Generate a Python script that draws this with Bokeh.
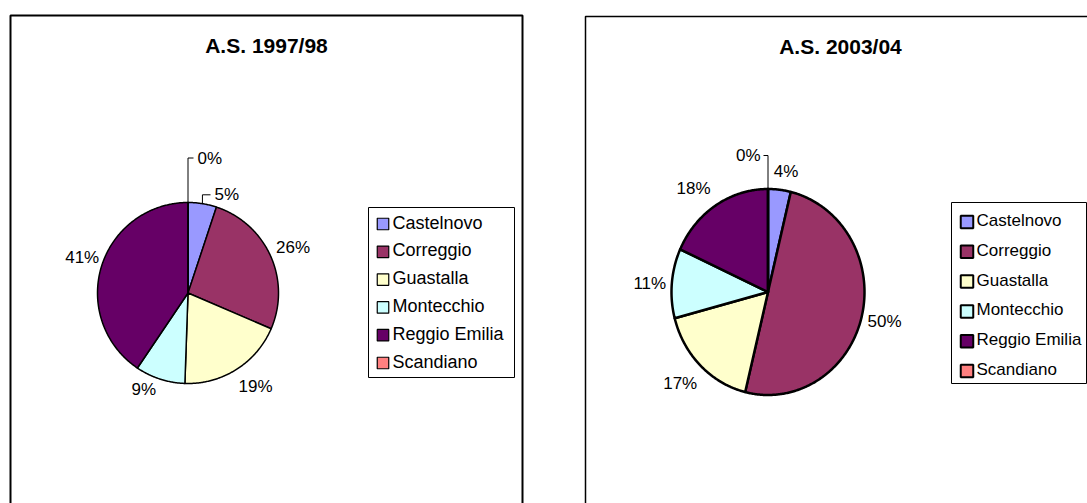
import math
from bokeh.plotting import figure
from bokeh.models import Range1d, ColumnDataSource
from bokeh.embed import file_html
from bokeh.resources import INLINE
from bokeh.core.properties import value

# ---------------- data ----------------
categories = ["Castelnovo", "Correggio", "Guastalla", "Montecchio", "Reggio Emilia", "Scandiano"]
colors = ["#9999FF", "#993366", "#FFFFCC", "#CCFFFF", "#660066", "#FF8080"]
title_1997 = "A.S. 1997/98"
title_2003 = "A.S. 2003/04"
values_1997 = [5.1, 26.4, 19.1, 8.9, 40.6, 0.0]
values_2003 = [3.8, 50.0, 17.1, 10.9, 18.2, 0.0]

FONT = value("Liberation Sans")
W, H = 1087, 503


def Y(sy):
    # picture y -> data y
    return H - sy


p = figure(width=W, height=H, x_range=Range1d(0, W), y_range=Range1d(0, H),
           output_backend="svg", toolbar_location=None, min_border=0,
           x_axis_type=None, y_axis_type=None, outline_line_color=None,
           background_fill_color="white", border_fill_color="white")


def draw_chart(frame, frame_lw, title, title_pos, vals, pie, lw, label_layout,
               legend_box, legend_font, swatch, rows):
    # frame
    fl, fr, ft = frame
    p.quad(left=[fl], right=[fr], top=[Y(ft)], bottom=[Y(540)], fill_color=None,
           line_color="black", line_width=frame_lw)
    # title
    p.text(x=[title_pos[0]], y=[Y(title_pos[1])], text=[title], text_font=FONT,
           text_font_size="21px", text_font_style="bold", text_align="center",
           text_baseline="middle", text_color="black")
    # pie slices
    cx, cys, rx, ry = pie
    cy = Y(cys)
    total = sum(vals)
    xs, ys, mids = [], [], []
    cum = 0.0
    for v in vals:
        t0 = 2 * math.pi * cum / total
        t1 = 2 * math.pi * (cum + v) / total
        n = max(2, int(abs(t1 - t0) / 0.01))
        px, py = [cx], [cy]
        for k in range(n + 1):
            t = t0 + (t1 - t0) * k / n
            px.append(cx + rx * math.sin(t))
            py.append(cy + ry * math.cos(t))
        xs.append(px)
        ys.append(py)
        mids.append((t0 + t1) / 2)
        cum += v
    src = ColumnDataSource(dict(xs=xs, ys=ys, color=colors, name=categories))
    p.patches("xs", "ys", fill_color="color", line_color="black", line_width=lw,
              line_join="round", source=src)
    # data labels
    for v, mid, lay in zip(vals, mids, label_layout):
        dx, dy, align, leader = lay
        lx, ly = cx + dx, cy + dy
        txt = "%d%%" % round(100 * v / total)
        p.text(x=[lx], y=[ly], text=[txt], text_font=FONT, text_font_size="17px",
               text_align=align, text_baseline="middle", text_color="black")
        if leader:
            ex = cx + rx * math.sin(mid)
            ey = cy + ry * math.cos(mid)
            endx = lx - 4 if align == "left" else lx + 3
            p.line(x=[ex, ex, endx], y=[ey, ly, ly], line_color="black", line_width=1)
    # legend
    ll, lr, lt, lb = legend_box
    p.quad(left=[ll], right=[lr], top=[Y(lt)], bottom=[Y(lb)], fill_color="white",
           line_color="black", line_width=1)
    sx, ssize, sw_lw, tx = swatch
    r0, step = rows
    for i, (name, col) in enumerate(zip(categories, colors)):
        ry_ = Y(r0 + i * step)
        p.rect(x=[sx], y=[ry_ - 1.5], width=ssize, height=ssize, fill_color=col,
               line_color="black", line_width=sw_lw)
        p.text(x=[tx], y=[ry_], text=[name], text_font=FONT, text_font_size=legend_font,
               text_align="left", text_baseline="middle", text_color="black")


# layout for labels: (dx, dy_up, align, leader)
layout_1997 = [
    (26.5, 98.2, "left", True),
    (105.0, 45.2, "center", False),
    (67.5, -93.5, "center", False),
    (-44.2, -96.8, "center", False),
    (-105.8, 35.2, "center", False),
    (9.5, 135.0, "left", True),
]
layout_2003 = [
    (18.0, 120.8, "center", False),
    (116.5, -29.5, "center", False),
    (-87.8, -91.8, "center", False),
    (-118.2, 8.2, "center", False),
    (-74.5, 103.8, "center", False),
    (-7.5, 136.5, "right", True),
]

draw_chart(frame=(10, 522, 15), frame_lw=2, title=title_1997, title_pos=(266, 45),
           vals=values_1997, pie=(187.5, 292.5, 90.5, 90.5), lw=1.5,
           label_layout=layout_1997, legend_box=(368, 514, 207, 377),
           legend_font="18px", swatch=(382.5, 11.5, 1.2, 392), rows=(222, 27.8))

draw_chart(frame=(585, 1100, 16), frame_lw=1.5, title=title_2003, title_pos=(840, 46),
           vals=values_2003, pie=(767.5, 291.5, 96.5, 103.0), lw=2.5,
           label_layout=layout_2003, legend_box=(951, 1086, 202, 383),
           legend_font="17px", swatch=(966.5, 12.5, 2, 976), rows=(220, 29.8))

open("out.html", "w").write(file_html(p, INLINE))
